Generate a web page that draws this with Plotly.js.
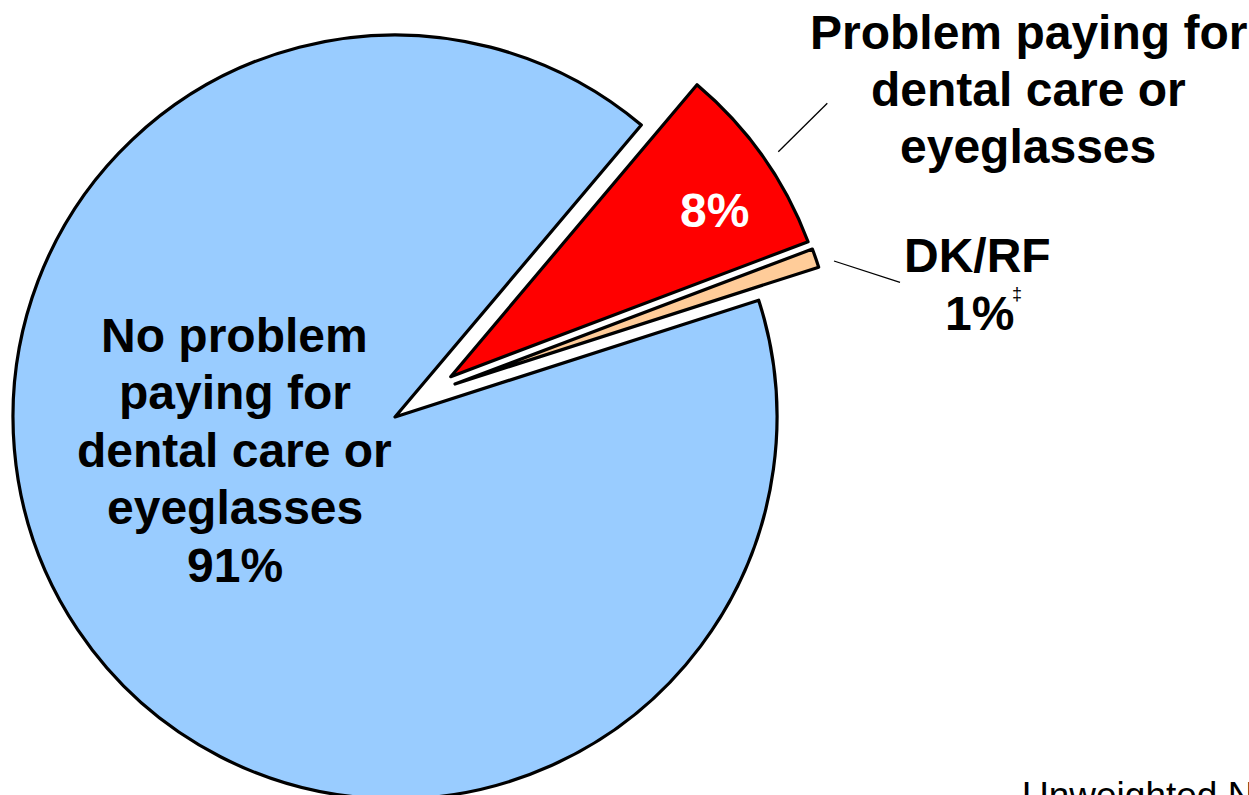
<!DOCTYPE html>
<html>
<head>
<meta charset="utf-8">
<script src="https://cdn.plot.ly/plotly-3.0.1.min.js"></script>
<style>
  html, body { margin: 0; padding: 0; overflow: hidden; background: #ffffff; }
  #chart { position: absolute; left: 0; top: -20px; width: 1249px; height: 850px; }
</style>
</head>
<body>
<div id="chart"></div>
<script>
// ---- data ----
var categories = ["Problem paying for dental care or eyeglasses", "DK/RF", "No problem paying for dental care or eyeglasses"];
var sliceValues = [8.1, 0.8, 91.1];
var percentLabels = ["8%", "1%", "91%"];
var sliceColors = ["#FF0000", "#FFCC99", "#99CCFF"];
var problemLabelLines = ["Problem paying for", "dental care or", "eyeglasses"];
var dkrfLabelLines = ["DK/RF"];
var noProblemLabelLines = ["No problem", "paying for", "dental care or", "eyeglasses"];
var footnoteMark = "\u2021";
var footerText = "Unweighted N";

// ---- layout helpers ----
var W = 1249, H = 850, OFF = 20;
var R = 382;
var FONT = "Liberation Sans, Arial, sans-serif";
function px(x) { return x / W; }
function py(y) { return 1 - (y + OFF) / H; }
function domainFor(cx, cy) {
  return {
    x: [(cx - R) / W, (cx + R) / W],
    y: [1 - (cy + OFF + R) / H, 1 - (cy + OFF - R) / H]
  };
}
// slice centres (pixel positions of each slice's apex)
var centres = [[450.7, 376.7], [455, 384], [395, 417]];
var drawOrder = [2, 0, 1];

var traces = drawOrder.map(function (k) {
  return {
    type: "pie",
    labels: categories,
    values: sliceValues,
    sort: false,
    direction: "clockwise",
    rotation: 40.15,
    textinfo: "none",
    hoverinfo: "skip",
    showlegend: false,
    domain: domainFor(centres[k][0], centres[k][1]),
    marker: {
      colors: sliceColors.map(function (c, i) { return i === k ? c : "rgba(0,0,0,0)"; }),
      line: {
        color: sliceColors.map(function (c, i) { return i === k ? "#000000" : "rgba(0,0,0,0)"; }),
        width: sliceColors.map(function (c, i) { return i === k ? 3.2 : 0; })
      }
    }
  };
});

var FS = 48;
var annotations = [];
function addLine(text, cx, baseline, opts) {
  opts = opts || {};
  var fs = opts.size || FS;
  annotations.push({
    xref: "paper", yref: "paper",
    x: px(cx), y: py(baseline - 0.3465 * fs),
    xanchor: opts.xanchor || "center", yanchor: "middle",
    text: text, showarrow: false,
    font: { family: FONT, size: fs, color: opts.color || "#000000", weight: opts.weight || 700 }
  });
}
// big blue slice label
var blueBase = [352.3, 409.6, 467, 524.3];
noProblemLabelLines.forEach(function (t, i) { addLine(t, 234.5, blueBase[i]); });
addLine(percentLabels[2], 234.5, 581.7);
// red slice label
addLine(percentLabels[0], 714.3, 226.7, { color: "#FFFFFF" });
// outside label for red
var redBase = [49.3, 106.5, 163.5];
problemLabelLines.forEach(function (t, i) { addLine(t, 1028, redBase[i]); });
// DK/RF
addLine(dkrfLabelLines[0], 977.5, 271.7);
addLine(percentLabels[1], 979, 330);
addLine(footnoteMark, 1017, 294 + 0.3465 * 18, { size: 18, weight: 400 });
// footer
addLine(footerText, 1020, 808, { size: 37, weight: 400, xanchor: "left" });

var shapes = [
  { type: "line", xref: "paper", yref: "paper", x0: px(778.3), y0: py(151.7), x1: px(827.3), y1: py(103.3),
    line: { color: "#000000", width: 1.3 } },
  { type: "line", xref: "paper", yref: "paper", x0: px(834), y0: py(261), x1: px(900), y1: py(282.3),
    line: { color: "#000000", width: 1.3 } }
];

var layout = {
  width: W, height: H,
  margin: { l: 0, r: 0, t: 0, b: 0, pad: 0 },
  paper_bgcolor: "#ffffff",
  plot_bgcolor: "#ffffff",
  showlegend: false,
  annotations: annotations,
  shapes: shapes
};

Plotly.newPlot("chart", traces, layout, { staticPlot: true, displayModeBar: false });
</script>
</body>
</html>
